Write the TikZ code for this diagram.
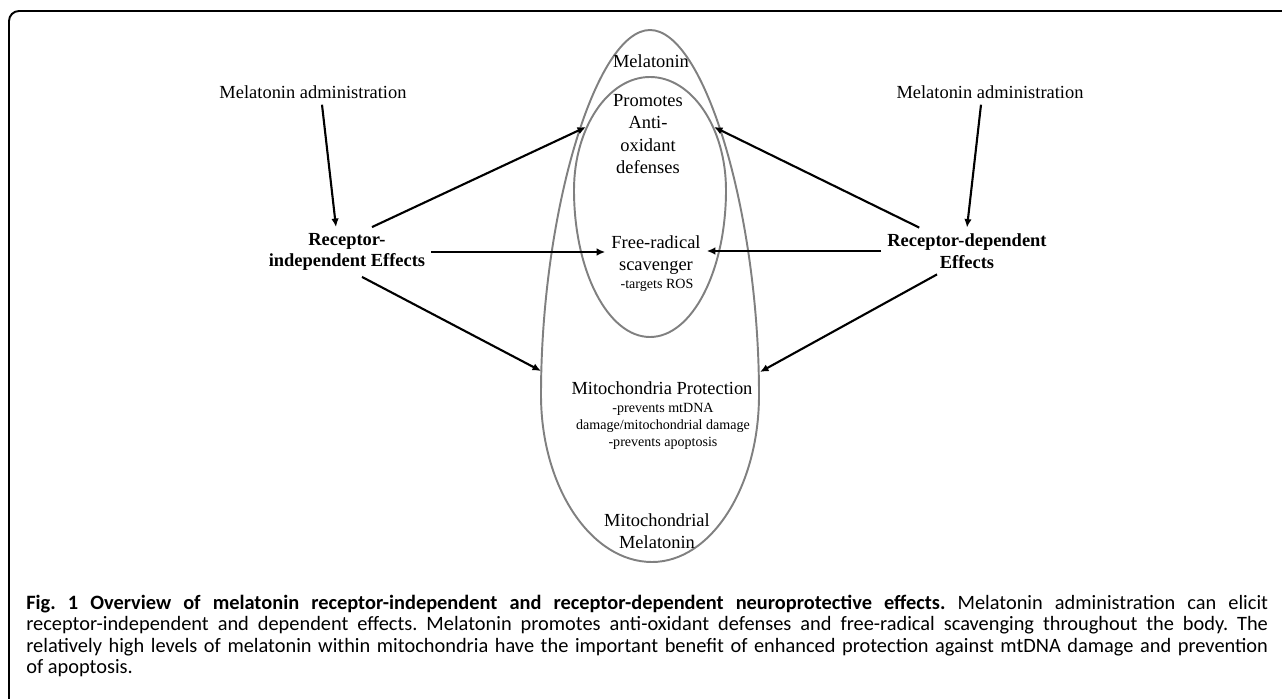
\documentclass[tikz,border=0pt]{standalone}
\usepackage{fontspec}
\setmainfont{Liberation Serif}
\newfontfamily\capfont{Carlito}
\usetikzlibrary{arrows.meta}

\begin{document}
\begin{tikzpicture}[x=0.02cm,y=-0.02cm,
    arrow/.style={-{Latex[length=1.7mm,width=1.5mm]}, line width=1.2pt},
    ring/.style={draw=black!50, line width=1.1pt},
    lbl/.style={align=center, font=\fontsize{10.5}{12.7}\selectfont},
    note/.style={align=center, font=\fontsize{8}{9.6}\selectfont}]
\useasboundingbox (0,0) rectangle (1282,699);

% Frame
\draw[line width=1.1pt, rounded corners=0.2cm] (9,700) -- (9,11) -- (1283,11);

% Melatonin / mitochondrial melatonin
\draw[ring] (650,30) .. controls (704,30) and (759,212) .. (759,395)
    .. controls (759,487) and (711,562) .. (652,562)
    .. controls (591,562) and (541,487) .. (541,395)
    .. controls (541,212) and (596,30) .. cycle;

% Promotes / free-radical
\draw[ring] (650,77) .. controls (692,77) and (726,128) .. (726,190)
    .. controls (726,271) and (692,337) .. (650,337)
    .. controls (608,337) and (574,271) .. (574,190)
    .. controls (574,128) and (608,77) .. cycle;

% Labels
\node[lbl] (melA) at (651,61) {Melatonin};
\node[lbl] (prom) at (648,134) {Promotes\\Anti-\\oxidant\\defenses};
\node[lbl] (radical) at (656,255) {Free-radical\\scavenger};
\node[note] (ros) at (657,285) {-targets ROS};
\node[lbl] (mito) at (662,388) {Mitochondria Protection};
\node[note] (mitonote) at (663,426) {-prevents mtDNA\\damage/mitochondrial damage\\-prevents apoptosis};
\node[lbl] (mitomel) at (657,531) {Mitochondrial\\Melatonin};

\node[lbl] (adminL) at (313,92) {Melatonin administration};
\node[lbl] (adminR) at (990,92) {Melatonin administration};
\node[lbl, font=\fontsize{10.5}{12.2}\selectfont\bfseries] (indep) at (347,252) {Receptor-\\independent Effects};
\node[lbl, font=\fontsize{10.5}{12.2}\selectfont\bfseries] (dep) at (967,251) {Receptor-dependent\\Effects};

\coordinate (promL) at (586,127);
\coordinate (promR) at (714,127);
\coordinate (mitoL) at (541,371);
\coordinate (mitoR) at (760,372);

% Arrows
\draw[arrow] ([xshift=0.18cm]adminL.south) -- ([xshift=-0.22cm]indep.north);
\draw[arrow] ([xshift=0.5cm]indep.north) -- (promL);
\draw[arrow] (indep.east) -- (indep.east -| radical.west);
\draw[arrow] ([xshift=0.3cm]indep.south) -- (mitoL);

\draw[arrow] ([xshift=-0.18cm]adminR.south) -- (dep.north);
\draw[arrow] (dep) -- (promR);
\draw[arrow] (dep.west) -- (dep.west -| radical.east);
\draw[arrow] ([xshift=-0.6cm]dep.south) -- (mitoR);

% Caption
\node[anchor=north west, inner sep=0pt, text width=24.84cm, align=justify,
      font=\capfont\fontsize{11.6}{12.1}\selectfont] (caption) at (26,595)
  {\capfont\fontsize{11.6}{12.1}\selectfont\frenchspacing\hyphenpenalty=10000 \tolerance=9999
   \textbf{Fig. 1 Overview of melatonin receptor-independent and receptor-dependent neuroprotective effects.} Melatonin administration can elicit\linebreak
   receptor-independent and dependent effects. Melatonin promotes anti-oxidant defenses and free-radical scavenging throughout the body. The\linebreak
   relatively high levels of melatonin within mitochondria have the important benefit of enhanced protection against mtDNA damage and prevention\linebreak
   of apoptosis.\par};
\end{tikzpicture}
\end{document}
